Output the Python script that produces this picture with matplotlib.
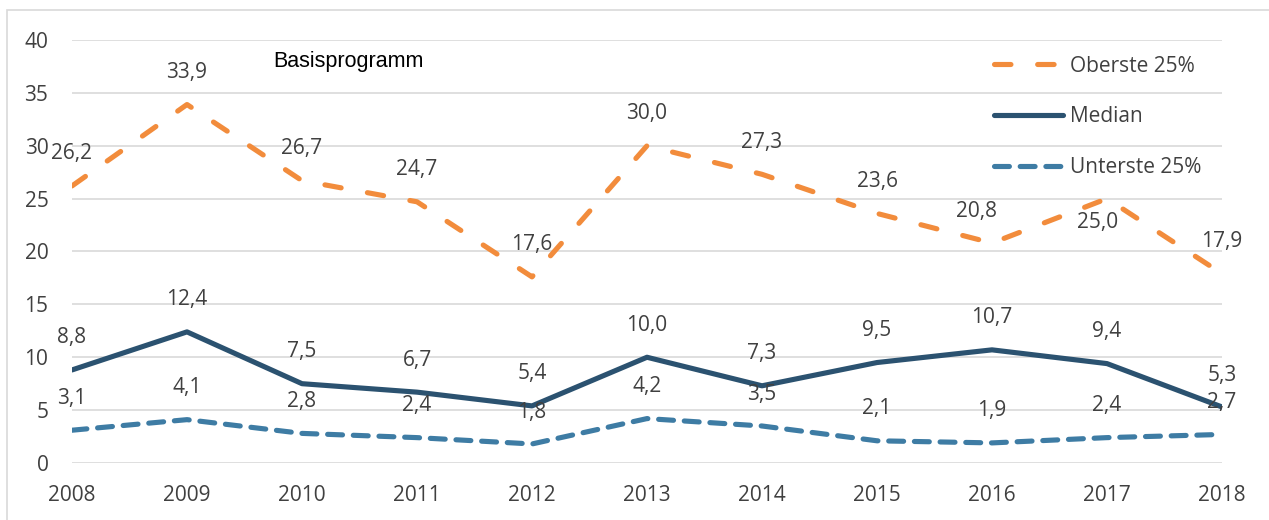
import matplotlib.pyplot as plt
from matplotlib.patches import Rectangle

years = [2008, 2009, 2010, 2011, 2012, 2013, 2014, 2015, 2016, 2017, 2018]
oberste = [26.2, 33.9, 26.7, 24.7, 17.6, 30.0, 27.3, 23.6, 20.8, 25.0, 17.9]
median = [8.8, 12.4, 7.5, 6.7, 5.4, 10.0, 7.3, 9.5, 10.7, 9.4, 5.3]
unterste = [3.1, 4.1, 2.8, 2.4, 1.8, 4.2, 3.5, 2.1, 1.9, 2.4, 2.7]

c_ob = '#F28C3C'
c_med = '#2B5270'
c_unt = '#3E7CA4'
txt = '#404040'
font = 'Open Sans'

fig = plt.figure(figsize=(12.69, 5.2), dpi=100)
ax = fig.add_axes([72/1269, 1-463/520, 1150/1269, 423/520])

# chart border
fig.patches.append(Rectangle((7/1269, -0.1), 1.2, 1 - 10/520 + 0.1,
                             transform=fig.transFigure, fill=False,
                             edgecolor='#D9D9D9', lw=1.2))

lw = 3.7
l1, = ax.plot(years, oberste, color=c_ob, lw=lw, dashes=(3.2, 5.2),
              dash_capstyle='round', label='Oberste 25%')
l2, = ax.plot(years, median, color=c_med, lw=lw, solid_capstyle='round',
              label='Median')
l3, = ax.plot(years, unterste, color=c_unt, lw=lw, dashes=(2.9, 2.1),
              dash_capstyle='round', label='Unterste 25%')

# a few labels were moved by hand in the original
moved = {(0, 8): (-11, 23), (0, 9): (-7, -17)}
for k, series in enumerate((oberste, median, unterste)):
    for i, (x, y) in enumerate(zip(years, series)):
        off = moved.get((k, i), (0, 23))
        ax.annotate(f'{y:.1f}'.replace('.', ','), (x, y), xytext=off,
                    textcoords='offset points', ha='center', va='center',
                    fontsize=15, color=txt, family=font)

ax.set_xlim(2008, 2018)
ax.set_ylim(0, 40)
ax.set_yticks(range(0, 41, 5))
ax.set_xticks(years)
ax.grid(axis='y', color='#D9D9D9', lw=1.2)
ax.set_axisbelow(True)
for s in ax.spines.values():
    s.set_visible(False)
ax.tick_params(length=0, labelsize=15, labelcolor=txt)
ax.tick_params(axis='y', pad=17)
ax.tick_params(axis='x', pad=16)
for lab in ax.get_xticklabels() + ax.get_yticklabels():
    lab.set_family(font)

ax.text(273/1269, 1 - 62/520, 'Basisprogramm', transform=fig.transFigure,
        ha='left', va='center', fontsize=15.5, family='Liberation Sans',
        color='black')

leg = ax.legend(handles=[l1, l2, l3], loc='upper left',
                bbox_to_anchor=(975/1269, 1 - 37/520), bbox_transform=fig.transFigure,
                frameon=False, handlelength=3.3, handletextpad=0.35,
                labelspacing=1.42, prop={'family': font, 'size': 15})
for t in leg.get_texts():
    t.set_color(txt)

fig.savefig('out.png', dpi=100)
